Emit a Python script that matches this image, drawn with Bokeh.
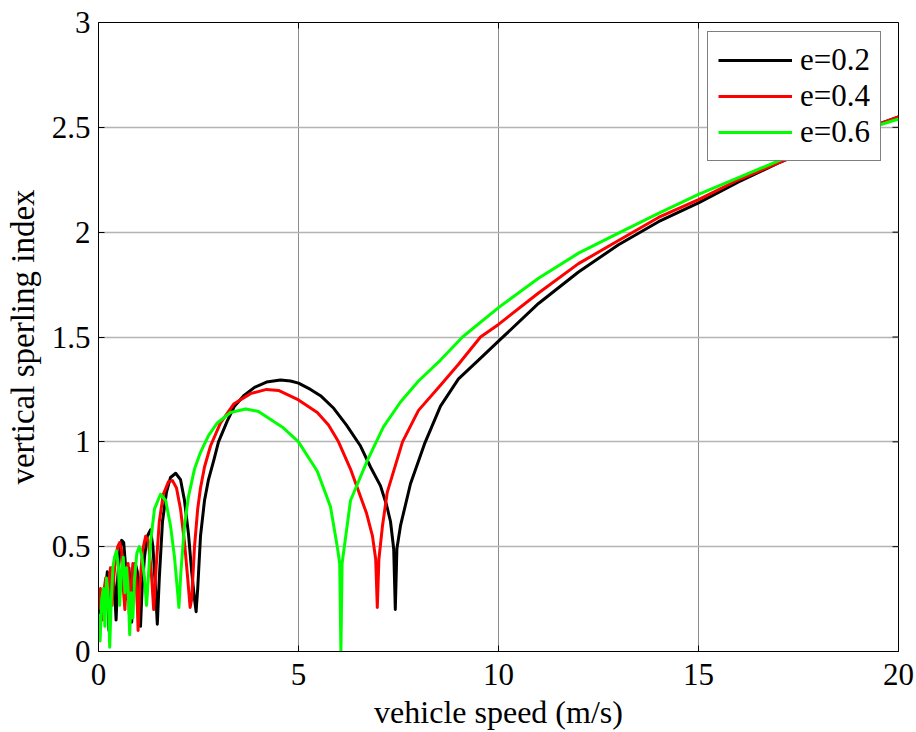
import math
from bokeh.plotting import figure
from bokeh.models import (FixedTicker, NumeralTickFormatter,
                          Legend, LegendItem, Range1d)
from bokeh.embed import file_html
from bokeh.resources import INLINE

# Vertical Sperling index versus vehicle speed for three eccentricities
speed_e02 = [0.00, 0.05, 0.10, 0.14, 0.18, 0.22, 0.26, 0.30, 0.35, 0.40, 0.44, 0.48,
             0.53, 0.58, 0.63, 0.68, 0.72, 0.76, 0.80, 0.83, 0.87, 0.92, 0.97, 1.02,
             1.05, 1.09, 1.15, 1.22, 1.30, 1.36, 1.42, 1.47, 1.52, 1.60, 1.70, 1.80,
             1.93, 2.05, 2.15, 2.25, 2.33, 2.40, 2.44, 2.48, 2.55, 2.65, 2.75, 2.88,
             3.00, 3.22, 3.40, 3.63, 3.90, 4.20, 4.55, 4.80, 5.00, 5.30, 5.55, 5.88,
             6.20, 6.55, 6.80, 7.05, 7.20, 7.30, 7.38, 7.42, 7.46, 7.55, 7.80, 8.15,
             8.55, 9.00, 9.50, 10.0, 11.0, 12.0, 13.0, 14.0, 15.0, 16.0, 17.0, 18.0,
             19.0, 20.0]
sperling_e02 = [0.15, 0.22, 0.28, 0.18, 0.30, 0.38, 0.10, 0.25, 0.40, 0.30, 0.15, 0.35,
                0.48, 0.53, 0.52, 0.40, 0.25, 0.40, 0.30, 0.14, 0.30, 0.42, 0.38, 0.22,
                0.12, 0.30, 0.45, 0.55, 0.58, 0.50, 0.32, 0.13, 0.35, 0.62, 0.76, 0.83,
                0.85, 0.82, 0.72, 0.56, 0.38, 0.25, 0.19, 0.30, 0.55, 0.72, 0.82, 0.91,
                1.00, 1.10, 1.17, 1.22, 1.26, 1.285, 1.295, 1.29, 1.28, 1.25, 1.22, 1.16,
                1.08, 0.98, 0.88, 0.79, 0.70, 0.62, 0.49, 0.20, 0.49, 0.60, 0.80, 0.99,
                1.17, 1.30, 1.39, 1.48, 1.66, 1.81, 1.94, 2.05, 2.14, 2.24, 2.33, 2.41,
                2.48, 2.55]

speed_e04 = [0.00, 0.05, 0.09, 0.13, 0.18, 0.22, 0.26, 0.30, 0.34, 0.38, 0.43, 0.48,
             0.53, 0.58, 0.62, 0.66, 0.70, 0.74, 0.77, 0.81, 0.86, 0.92, 0.97, 0.99,
             1.03, 1.10, 1.18, 1.25, 1.32, 1.38, 1.44, 1.52, 1.62, 1.75, 1.85, 1.95,
             2.05, 2.15, 2.23, 2.29, 2.33, 2.40, 2.48, 2.55, 2.65, 2.80, 3.05, 3.38,
             3.80, 4.20, 4.50, 5.00, 5.47, 5.75, 6.00, 6.30, 6.70, 6.85, 6.93, 6.97,
             7.01, 7.10, 7.22, 7.60, 8.00, 8.55, 9.00, 9.55, 10.0, 11.0, 12.0, 13.0,
             14.0, 15.0, 16.0, 17.0, 18.0, 19.0, 20.0]
sperling_e04 = [0.20, 0.30, 0.15, 0.28, 0.35, 0.20, 0.33, 0.40, 0.22, 0.35, 0.45, 0.50,
                0.52, 0.48, 0.30, 0.20, 0.38, 0.42, 0.18, 0.30, 0.42, 0.40, 0.22, 0.10,
                0.30, 0.48, 0.55, 0.52, 0.38, 0.20, 0.40, 0.62, 0.75, 0.81, 0.815, 0.78,
                0.68, 0.52, 0.35, 0.21, 0.25, 0.50, 0.68, 0.78, 0.88, 0.98, 1.09, 1.18,
                1.23, 1.25, 1.245, 1.20, 1.14, 1.08, 1.00, 0.87, 0.66, 0.55, 0.44, 0.21,
                0.44, 0.60, 0.76, 1.00, 1.15, 1.27, 1.37, 1.50, 1.56, 1.71, 1.85, 1.96,
                2.07, 2.155, 2.25, 2.33, 2.41, 2.48, 2.55]

speed_e06 = [0.00, 0.04, 0.08, 0.12, 0.16, 0.20, 0.24, 0.28, 0.32, 0.36, 0.40, 0.45,
             0.50, 0.53, 0.57, 0.62, 0.66, 0.70, 0.74, 0.78, 0.82, 0.86, 0.90, 0.96,
             1.02, 1.08, 1.15, 1.20, 1.23, 1.30, 1.40, 1.55, 1.68, 1.80, 1.90, 1.97,
             2.01, 2.06, 2.15, 2.25, 2.40, 2.55, 2.75, 2.97, 3.30, 3.68, 4.00, 4.20,
             4.60, 5.00, 5.47, 5.80, 5.97, 6.03, 6.06, 6.09, 6.30, 6.72, 7.12, 7.55,
             8.00, 8.55, 9.10, 10.0, 11.0, 12.0, 13.05, 14.0, 15.0, 16.0, 17.0, 18.0,
             19.0, 20.0]
sperling_e06 = [0.18, 0.05, 0.25, 0.30, 0.12, 0.35, 0.28, 0.02, 0.25, 0.40, 0.45, 0.48,
                0.40, 0.22, 0.38, 0.45, 0.28, 0.40, 0.30, 0.08, 0.28, 0.16, 0.35, 0.47,
                0.50, 0.46, 0.35, 0.22, 0.30, 0.52, 0.68, 0.75, 0.72, 0.60, 0.45, 0.30,
                0.21, 0.38, 0.60, 0.74, 0.87, 0.95, 1.03, 1.09, 1.14, 1.157, 1.145, 1.12,
                1.07, 1.00, 0.86, 0.69, 0.50, 0.42, 0.00, 0.42, 0.72, 0.91, 1.07, 1.19,
                1.29, 1.39, 1.50, 1.64, 1.78, 1.90, 2.00, 2.09, 2.18, 2.26, 2.34, 2.42,
                2.48, 2.54]

x_ticks = [0, 5, 10, 15, 20]
y_ticks = [0, 0.5, 1, 1.5, 2, 2.5, 3]
legend_labels = ["e=0.2", "e=0.4", "e=0.6"]
line_colors = ["#000000", "#ff0000", "#00ff00"]

FONT = "Liberation Serif"
X_MIN, X_MAX = 0, 20
Y_MIN, Y_MAX = 0, 3

p = figure(width=916, height=732, output_backend="svg", toolbar_location=None,
           x_range=Range1d(X_MIN, X_MAX), y_range=Range1d(Y_MIN, Y_MAX),
           min_border_left=98, min_border_right=18, min_border_top=22,
           min_border_bottom=80, background_fill_color="white",
           border_fill_color="white")

renderers = []
for xs, ys, col in zip([speed_e02, speed_e04, speed_e06],
                       [sperling_e02, sperling_e04, sperling_e06], line_colors):
    r = p.line(xs, ys, line_color=col, line_width=3, line_join="round")
    renderers.append(r)

# frame and grid
p.outline_line_color = "black"
p.outline_line_width = 1
p.xgrid.ticker = FixedTicker(ticks=x_ticks)
p.ygrid.ticker = FixedTicker(ticks=y_ticks)
p.xgrid.grid_line_color = "#8c8c8c"
p.xgrid.grid_line_width = 1
p.ygrid.grid_line_color = "#b4b4b4"
p.ygrid.grid_line_width = 1.5

for ax, ticks in ((p.xaxis[0], x_ticks), (p.yaxis[0], y_ticks)):
    ax.ticker = FixedTicker(ticks=ticks)
    ax.formatter = NumeralTickFormatter(format="0.[0]")
    ax.major_tick_in = 6
    ax.major_tick_out = 0
    ax.minor_tick_line_color = None
    ax.axis_line_color = "black"
    ax.major_tick_line_color = "black"
    ax.major_label_text_font = FONT
    ax.major_label_text_font_size = "31px"
    ax.major_label_text_color = "black"
    ax.axis_label_text_font = FONT
    ax.axis_label_text_font_style = "normal"
    ax.axis_label_text_color = "black"

xaxis = p.xaxis[0]
yaxis = p.yaxis[0]
xaxis.major_label_standoff = 12
yaxis.major_label_standoff = 8
xaxis.axis_label = "vehicle speed (m/s)"
yaxis.axis_label = "vertical sperling index"
xaxis.axis_label_text_font_size = "32px"
yaxis.axis_label_text_font_size = "33px"
xaxis.axis_label_standoff = 6
yaxis.axis_label_standoff = 8

# inward tick marks along the top and right edges of the box
p.ray(x=x_ticks, y=[Y_MAX] * len(x_ticks), length=6, length_units="screen",
      angle=-math.pi / 2, line_color="black", line_width=1)
p.ray(x=[X_MAX] * len(y_ticks), y=y_ticks, length=6, length_units="screen",
      angle=math.pi, line_color="black", line_width=1)

legend = Legend(items=[LegendItem(label=lab, renderers=[r])
                       for lab, r in zip(legend_labels, renderers)],
                location=(609, 490))
legend.label_text_font = FONT
legend.label_text_font_size = "31px"
legend.label_text_color = "black"
legend.glyph_width = 74
legend.glyph_height = 36
legend.label_height = 36
legend.label_standoff = 8
legend.spacing = 0
legend.padding = 10
legend.margin = 0
legend.border_line_color = "black"
legend.border_line_width = 1
legend.background_fill_color = "white"
legend.background_fill_alpha = 1
p.add_layout(legend)

open("out.html", "w").write(file_html(p, INLINE))
